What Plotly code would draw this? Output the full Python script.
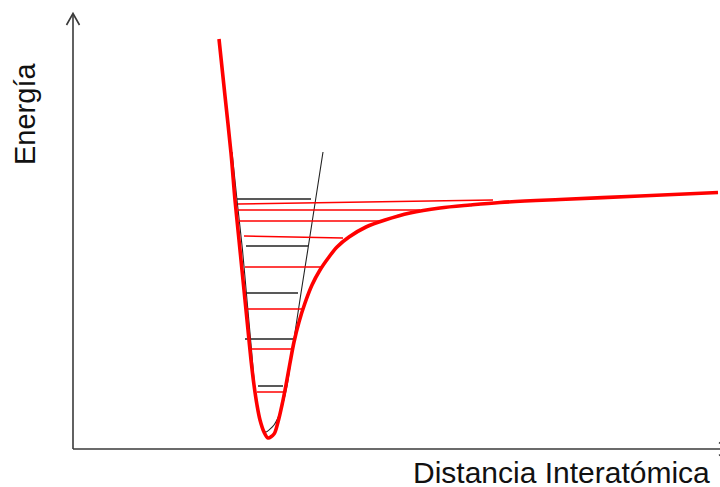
import plotly.graph_objects as go

W, H = 720, 487
X0, Y0 = 73, 449  # pixel position of the axes origin

# ---- data (distance r, energy E in chart units) ----
# Morse potential curve (red)
morse_r = [146, 152, 158, 162, 166, 169, 172, 175, 178, 181, 184, 187, 191, 195,
           201, 205, 209, 213, 217, 221, 226, 232, 239, 247, 256, 264, 276, 293,
           312, 337, 367, 397, 427, 487, 567, 645]
morse_E = [410, 353, 296, 249, 209, 179, 149, 119, 89, 64, 44, 29, 17, 11,
           15, 27, 44, 64, 86, 107, 127, 146, 164, 179, 192, 202, 212, 222,
           229, 236, 241, 244, 246.5, 249.5, 253, 256.5]

# Harmonic approximation (black parabola)
harm_r = [159, 164, 169.5, 174, 178.5, 182.5, 186, 189, 193, 201, 208, 214, 221, 228, 235.4, 242.7, 250]
harm_E = [297, 249, 199, 149, 99, 54, 32, 21, 17, 24, 39, 63, 110, 156, 203, 250, 297]

# Harmonic levels (black, equally spaced)
harm_lvl_E = [63, 110, 156, 203, 250]
harm_lvl_r0 = [185, 172, 172, 173, 164]
harm_lvl_r1 = [210, 221, 225, 235, 238]

# Anharmonic levels (red)
anh_lvl_E0 = [57, 100, 140, 182, 213, 228, 239, 245]
anh_lvl_E1 = [57, 100, 140, 182, 211, 228, 239, 249]
anh_lvl_r0 = [184, 178, 172, 172, 171, 166, 165, 165]
anh_lvl_r1 = [210, 219, 230, 249, 270, 310, 347, 420]

# text
x_label = "Distancia Interatómica"
y_label = "Energía"

fig = go.Figure()

# black parabola
fig.add_trace(go.Scatter(x=harm_r, y=harm_E, mode="lines",
                         line=dict(color="#222222", width=1.1, shape="spline", smoothing=0.6),
                         hoverinfo="skip", showlegend=False))

# harmonic levels
for e, a, b in zip(harm_lvl_E, harm_lvl_r0, harm_lvl_r1):
    fig.add_trace(go.Scatter(x=[a, b], y=[e, e], mode="lines",
                             line=dict(color="#222222", width=1.5),
                             hoverinfo="skip", showlegend=False))

# anharmonic levels
for e0, e1, a, b in zip(anh_lvl_E0, anh_lvl_E1, anh_lvl_r0, anh_lvl_r1):
    fig.add_trace(go.Scatter(x=[a, b], y=[e0, e1], mode="lines",
                             line=dict(color="#ff0000", width=1.5),
                             hoverinfo="skip", showlegend=False))

# Morse curve
fig.add_trace(go.Scatter(x=morse_r, y=morse_E, mode="lines",
                         line=dict(color="#ff0000", width=3.6, shape="spline", smoothing=0.9),
                         hoverinfo="skip", showlegend=False))

axis_col = "#3a3a3a"
shapes = [
    dict(type="line", xref="x", yref="y", x0=0, y0=0, x1=0, y1=435,
         line=dict(color=axis_col, width=1.6)),
    dict(type="line", xref="x", yref="y", x0=0, y0=0, x1=658, y1=0,
         line=dict(color=axis_col, width=1.6)),
    dict(type="path", xref="x", yref="y", path="M -6.5,424 L 0,435.5 L 6.5,424",
         line=dict(color=axis_col, width=1.6)),
    dict(type="path", xref="x", yref="y", path="M 646,6.5 L 657,0 L 646,-6.5",
         line=dict(color=axis_col, width=1.6)),
]

annotations = [
    dict(text=x_label, xref="paper", yref="paper", x=712 / W, y=1 - 472 / H,
         xanchor="right", yanchor="middle", showarrow=False,
         font=dict(family="Liberation Sans, Arial, sans-serif", size=30, color="#111111")),
    dict(text=y_label, xref="paper", yref="paper", x=25 / W, y=1 - 114 / H,
         xanchor="center", yanchor="middle", showarrow=False, textangle=-90,
         font=dict(family="Liberation Sans, Arial, sans-serif", size=29, color="#111111")),
]

fig.update_layout(
    width=W, height=H,
    margin=dict(l=0, r=0, t=0, b=0),
    paper_bgcolor="white", plot_bgcolor="white",
    xaxis=dict(range=[-X0, W - X0], visible=False, fixedrange=True),
    yaxis=dict(range=[Y0 - H, Y0], visible=False, fixedrange=True),
    shapes=shapes, annotations=annotations,
)

fig.write_html(
    "out.html",
    config={"displayModeBar": False},
    post_script=("document.body.style.margin='0';"
                 "document.body.style.overflow='hidden';"
                 "document.documentElement.style.overflow='hidden';"),
)
